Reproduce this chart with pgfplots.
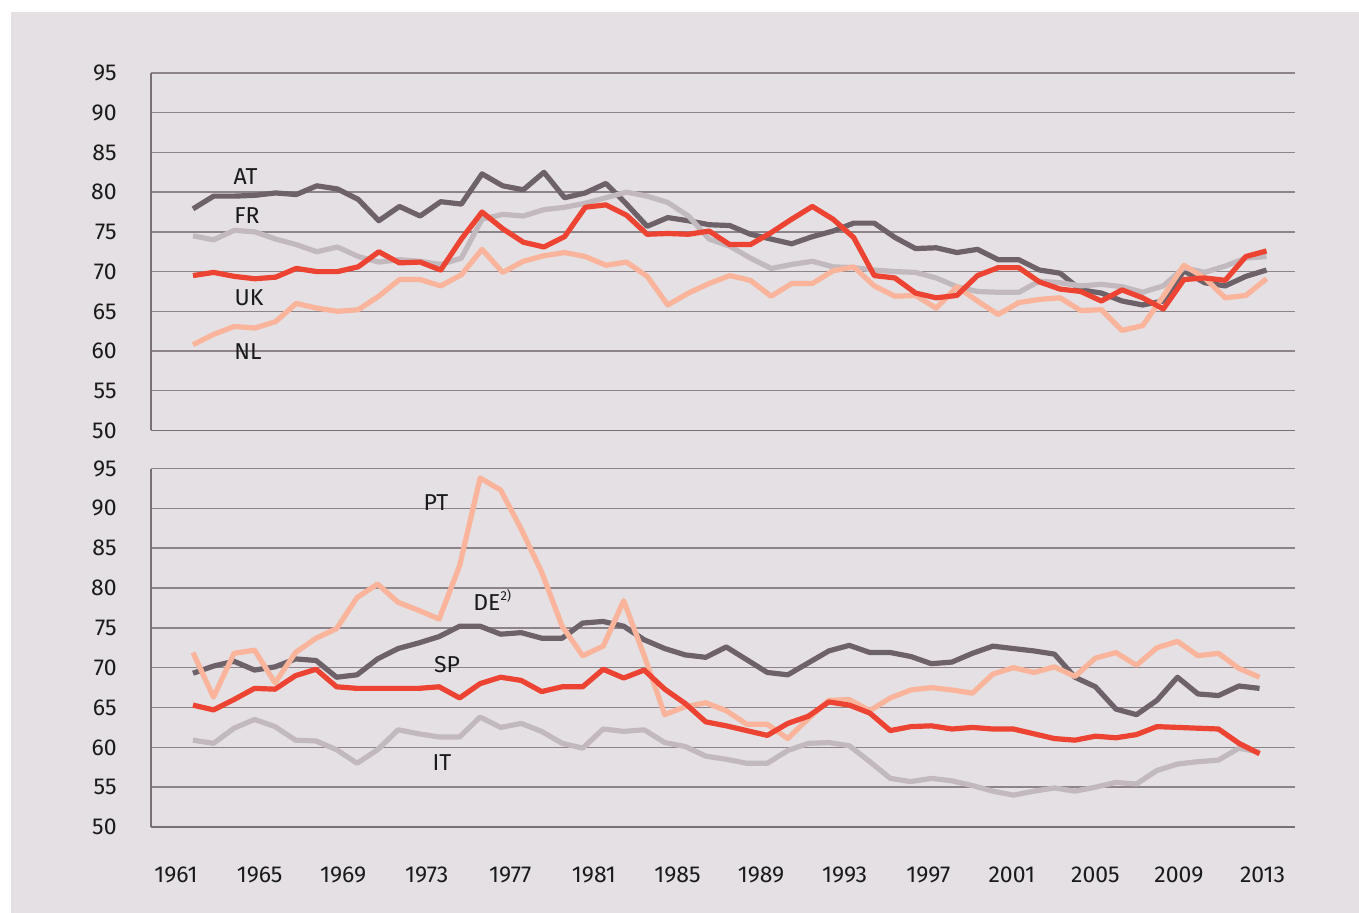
\documentclass[border=0pt]{standalone}
\usepackage{fontspec}
\setmainfont{Fira Sans}
\usepackage{pgfplots}
\pgfplotsset{compat=1.18}
\usepackage{pgfplotstable}
\definecolor{bg}{HTML}{E4E0E3}
\definecolor{cdark}{HTML}{6D6269}
\definecolor{cgray}{HTML}{C1B9BE}
\definecolor{cred}{HTML}{EC4332}
\definecolor{csal}{HTML}{F9B49B}
\definecolor{gridc}{HTML}{8D8489}
\definecolor{axc}{HTML}{7A6F75}
\definecolor{txt}{HTML}{1A1A1A}

\pgfplotstableread{
year AT FR UK NL
1961 77.9 74.5 69.5 60.8
1962 79.5 74.0 69.9 62.1
1963 79.5 75.2 69.4 63.1
1964 79.6 75.0 69.1 62.9
1965 79.9 74.1 69.3 63.7
1966 79.7 73.4 70.4 66.0
1967 80.8 72.5 70.0 65.4
1968 80.4 73.1 70.0 65.0
1969 79.1 71.9 70.6 65.2
1970 76.4 71.2 72.5 66.9
1971 78.2 71.5 71.1 69.0
1972 77.0 71.3 71.2 69.0
1973 78.8 70.9 70.2 68.2
1974 78.5 71.7 74.1 69.6
1975 82.3 76.6 77.5 72.8
1976 80.8 77.2 75.4 69.9
1977 80.3 77.0 73.7 71.3
1978 82.5 77.8 73.1 72.0
1979 79.3 78.1 74.4 72.4
1980 79.9 78.6 78.1 71.9
1981 81.1 79.3 78.4 70.8
1982 78.5 80.0 77.1 71.2
1983 75.7 79.5 74.7 69.4
1984 76.8 78.7 74.8 65.8
1985 76.4 77.0 74.7 67.3
1986 75.9 74.1 75.1 68.5
1987 75.8 73.2 73.4 69.5
1988 74.7 71.7 73.4 68.9
1989 74.1 70.4 74.9 66.9
1990 73.5 70.9 76.6 68.5
1991 74.4 71.3 78.2 68.5
1992 75.1 70.6 76.6 70.1
1993 76.1 70.5 74.3 70.6
1994 76.1 70.2 69.5 68.2
1995 74.3 70.0 69.2 66.9
1996 72.9 69.9 67.3 67.0
1997 73.0 69.2 66.7 65.4
1998 72.4 68.1 67.0 68.1
1999 72.8 67.5 69.5 66.3
2000 71.5 67.4 70.5 64.6
2001 71.5 67.4 70.5 66.1
2002 70.2 68.8 68.7 66.5
2003 69.8 68.6 67.8 66.7
2004 67.7 68.2 67.5 65.1
2005 67.3 68.4 66.3 65.2
2006 66.3 68.1 67.7 62.6
2007 65.8 67.4 66.7 63.2
2008 66.3 68.2 65.3 66.9
2009 70.1 70.5 69.0 70.8
2010 68.6 69.9 69.2 69.2
2011 68.2 70.7 68.9 66.7
2012 69.4 71.7 71.9 67.0
2013 70.2 71.9 72.6 69.1
}\toptab

\pgfplotstableread{
year PT SP DE IT
1961 71.9 69.3 65.3 60.9
1962 66.3 70.2 64.7 60.5
1963 71.8 70.8 66.0 62.4
1964 72.2 69.7 67.4 63.5
1965 68.1 70.1 67.3 62.6
1966 71.9 71.1 69.0 60.9
1967 73.7 70.9 69.8 60.8
1968 74.9 68.8 67.6 59.7
1969 78.8 69.1 67.4 58.0
1970 80.5 71.1 67.4 59.7
1971 78.2 72.4 67.4 62.2
1972 77.2 73.1 67.4 61.7
1973 76.1 73.9 67.6 61.3
1974 82.8 75.2 66.2 61.3
1975 93.8 75.2 68.0 63.8
1976 92.3 74.2 68.8 62.5
1977 87.4 74.4 68.4 63.0
1978 82.0 73.7 67.0 62.0
1979 75.2 73.7 67.6 60.5
1980 71.5 75.6 67.6 59.9
1981 72.7 75.8 69.8 62.3
1982 78.4 75.2 68.7 62.0
1983 71.5 73.5 69.7 62.2
1984 64.1 72.4 67.3 60.6
1985 65.1 71.6 65.5 60.1
1986 65.6 71.3 63.2 58.9
1987 64.6 72.6 62.7 58.5
1988 62.9 71.0 62.1 58.0
1989 62.9 69.4 61.5 58.0
1990 61.1 69.1 63.0 59.6
1991 63.6 70.6 63.9 60.5
1992 65.9 72.1 65.7 60.6
1993 66.0 72.8 65.3 60.2
1994 64.6 71.9 64.3 58.2
1995 66.2 71.9 62.1 56.1
1996 67.2 71.4 62.6 55.7
1997 67.5 70.5 62.7 56.1
1998 67.2 70.7 62.3 55.8
1999 66.8 71.8 62.5 55.2
2000 69.2 72.7 62.3 54.5
2001 70.0 72.4 62.3 54.0
2002 69.4 72.1 61.7 54.5
2003 70.1 71.7 61.1 54.9
2004 68.9 68.8 60.9 54.5
2005 71.2 67.6 61.4 55.0
2006 71.9 64.8 61.2 55.6
2007 70.3 64.1 61.6 55.4
2008 72.5 65.9 62.6 57.1
2009 73.3 68.8 62.5 57.9
2010 71.5 66.7 62.4 58.2
2011 71.8 66.5 62.3 58.4
2012 69.9 67.7 60.5 59.9
2013 68.8 67.4 59.2 59.4
}\bottab

\pgfplotsset{
  chart/.style={
    scale only axis, width=572pt,
    ymin=50, ymax=95, ytick={50,55,...,95},
    axis x line*=bottom, axis y line*=left,
    axis line style={-, axc, line width=0.9pt},
    ymajorgrids, grid style={gridc, line width=0.7pt},
    major tick length=0pt,
    tick label style={font=\fontsize{11.5}{13}\selectfont, text=txt, inner sep=0pt},
    yticklabel style={anchor=east, xshift=-17pt},
    /pgf/number format/assume math mode=true,
    every axis plot/.append style={no marks, line width=2.6pt, line join=round},
  }
}

\begin{document}
\begin{tikzpicture}
\useasboundingbox (0,0) rectangle (679.5pt,-456.5pt);
\fill[bg] (5.5pt,-6pt) rectangle (679.5pt,-456.5pt);

\begin{axis}[chart, at={(75.5pt,-215.25pt)}, anchor=south west, height=178.75pt,
  xmin=1958.966, xmax=2014.38, xtick=\empty]
\addplot[cdark] table[x=year,y=AT] {\toptab};
\addplot[cgray] table[x=year,y=FR] {\toptab};
\addplot[csal] table[x=year,y=NL] {\toptab};
\addplot[cred] table[x=year,y=UK] {\toptab};
\end{axis}

\begin{axis}[chart, at={(75.5pt,-413.5pt)}, anchor=south west, height=179.25pt,
  xmin=1958.953, xmax=2014.73,
  xtick={1960.17,1964.25,1968.32,1972.40,1976.47,1980.55,1984.62,1988.70,1992.77,1996.85,2000.92,2005.00,2009.07,2013.15},
  xticklabels={1961,1965,1969,1973,1977,1981,1985,1989,1993,1997,2001,2005,2009,2013},
  xticklabel style={anchor=center, yshift=-24pt}]
\addplot[cgray] table[x=year,y=IT] {\bottab};
\addplot[cdark] table[x=year,y=SP] {\bottab};
\addplot[csal] table[x=year,y=PT] {\bottab};
\addplot[cred] table[x=year,y=DE] {\bottab};
\end{axis}

\begin{scope}[every node/.style={font=\fontsize{11.5}{13}\selectfont, text=txt, inner sep=0pt}]
\node at (122.75pt,-88.5pt) {AT};
\node at (123.5pt,-108pt) {FR};
\node at (124.5pt,-149pt) {UK};
\node at (124pt,-176pt) {NL};
\node at (218pt,-251.5pt) {PT};
\node[anchor=west] at (236.5pt,-300pt) {DE\raisebox{0.75ex}{\fontsize{6.5}{7}\selectfont 2)}};
\node at (223.5pt,-332.5pt) {SP};
\node at (221pt,-381.5pt) {IT};
\end{scope}
\end{tikzpicture}
\end{document}
